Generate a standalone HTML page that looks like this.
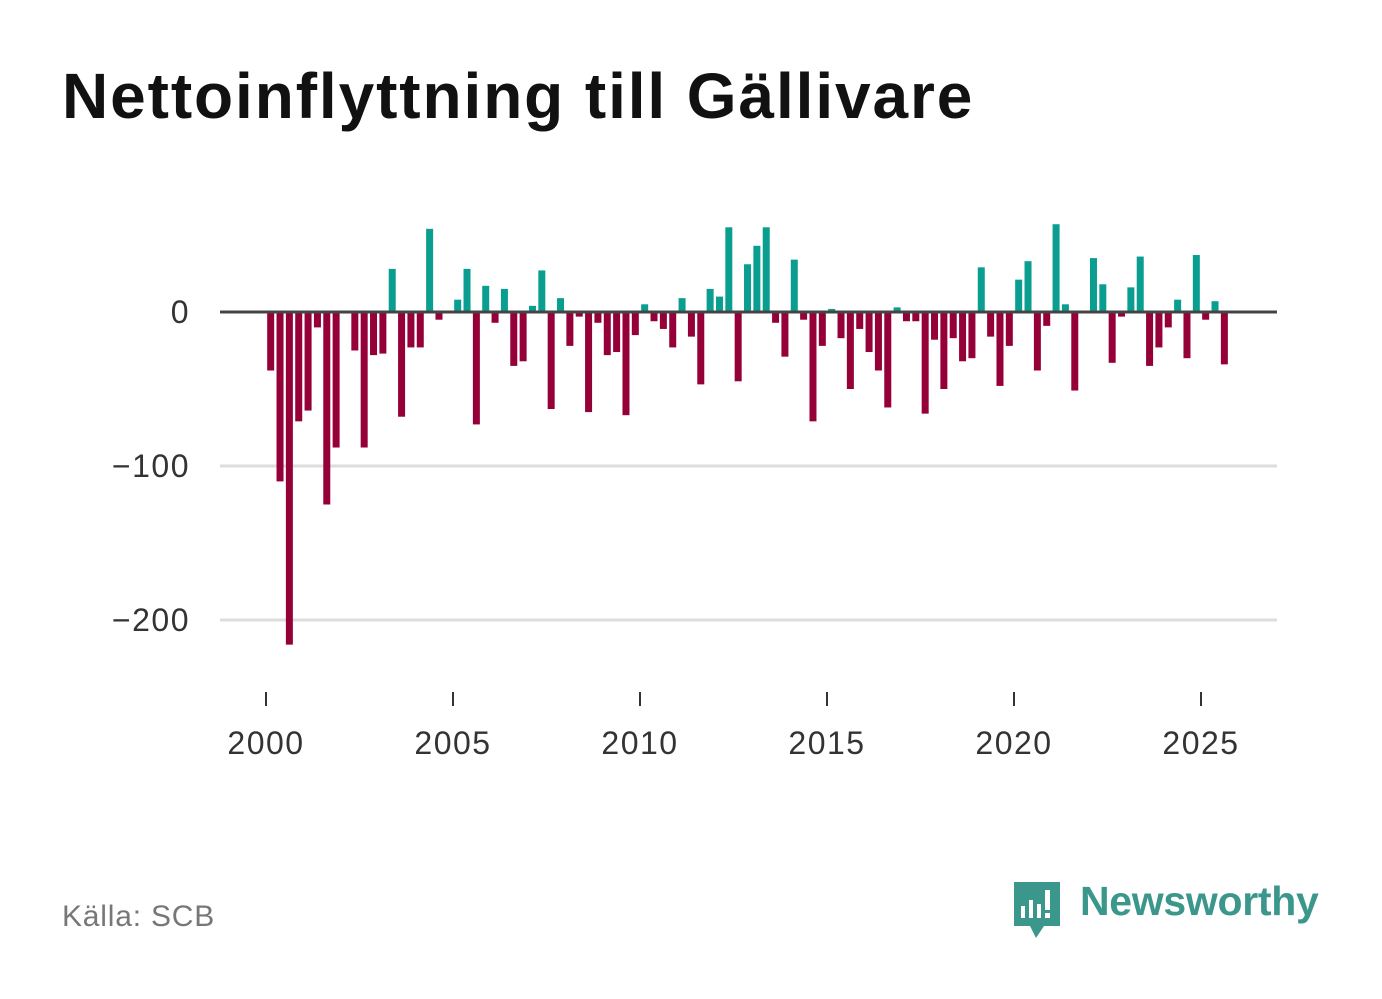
<!DOCTYPE html>
<html><head><meta charset="utf-8"><style>
html,body{margin:0;padding:0;background:#fff;}
body{width:1382px;height:999px;position:relative;overflow:hidden;font-family:"Liberation Sans",sans-serif;}
#title{position:absolute;left:62px;top:59px;font-size:64px;font-weight:bold;color:#111;margin:0;letter-spacing:1.9px;white-space:nowrap;}
#source{position:absolute;left:62px;top:900px;font-size:30px;color:#777;letter-spacing:0.8px;}
#brand{position:absolute;left:1080px;top:878px;font-size:41px;font-weight:bold;color:#3b978c;letter-spacing:-0.3px;}
</style></head><body>
<h1 id="title">Nettoinflyttning till Gällivare</h1>
<svg id="chart" width="1382" height="999" style="position:absolute;left:0;top:0"></svg>
<div id="source">Källa: SCB</div>
<svg style="position:absolute;left:1012px;top:880px" width="50" height="60">
<path d="M2 2 H48 V46 H32 L24 58 L18 46 H2 Z" fill="#3b978c"/>
<rect x="9" y="26" width="4" height="12" fill="#fff"/><rect x="17" y="20" width="4" height="18" fill="#fff"/><rect x="25" y="24" width="4" height="14" fill="#fff"/><rect x="33" y="10" width="5" height="20" fill="#fff"/><rect x="33" y="33" width="5" height="5" fill="#fff"/>
</svg>
<div id="brand">Newsworthy</div>
<script>
const values = [-38,-110,-216,-71,-64,-10,-125,-88,-1,-25,-88,-28,-27,28,-68,-23,-23,54,-5,0,8,28,-73,17,-7,15,-35,-32,4,27,-63,9,-22,-3,-65,-7,-28,-26,-67,-15,5,-6,-11,-23,9,-16,-47,15,10,55,-45,31,43,55,-7,-29,34,-5,-71,-22,2,-17,-50,-11,-26,-38,-62,3,-6,-6,-66,-18,-50,-17,-32,-30,29,-16,-48,-22,21,33,-38,-9,57,5,-51,0,35,18,-33,-3,16,36,-35,-23,-10,8,-30,37,-5,7,-34];
const startYear = 2000;
const yTicks = [0,-100,-200];
const yTickLabels = ["0","\u2212100","\u2212200"];
const xTicks = [2000,2005,2010,2015,2020,2025];
const NS="http://www.w3.org/2000/svg";
const svg=document.getElementById('chart');
const X=t=>266+(t-2000)*37.4;
const Y=v=>312-v*1.54;
function mk(tag,attrs){const e=document.createElementNS(NS,tag);for(const k in attrs)e.setAttribute(k,attrs[k]);svg.appendChild(e);return e;}
yTicks.forEach((v,i)=>{
  if(v!==0){const g=mk('line',{x1:220,x2:1277,y1:Y(v),y2:Y(v),stroke:'#ddd','stroke-width':3});
  
  }
  const t=mk('text',{x:190,y:Y(v)+11,'text-anchor':'end','font-size':32,'letter-spacing':1.5,fill:'#333','font-family':'Liberation Sans, sans-serif'});
  t.textContent=yTickLabels[i];
  
  
});
values.forEach((v,i)=>{
  const t=startYear+(i+0.5)/4;
  const y0=Y(0),y1=Y(v);
  const r=mk('rect',{x:X(t)-3.5,width:7,y:Math.min(y0,y1),height:Math.abs(y1-y0),fill:v>=0?'#0a9e90':'#960038'});
  
  
});
const z=mk('line',{x1:220,x2:1277,y1:Y(0),y2:Y(0),stroke:'#444','stroke-width':3});


xTicks.forEach(yr=>{
  const l=mk('line',{x1:X(yr),x2:X(yr),y1:692,y2:706,stroke:'#333','stroke-width':2});
  
  
  const t=mk('text',{x:X(yr),y:754,'text-anchor':'middle','font-size':32,'letter-spacing':1.5,fill:'#333','font-family':'Liberation Sans, sans-serif'});
  t.textContent=yr;
  
  
});
</script>
</body></html>
